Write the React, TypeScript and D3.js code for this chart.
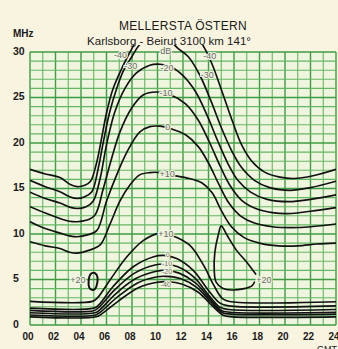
import React, { useEffect, useRef } from 'react';
import * as d3 from 'd3';

// axis ticks
const hourLabels = ['00', '02', '04', '06', '08', '10', '12', '14', '16', '18', '20', '22', '24'];
const freqTicks = [0, 5, 10, 15, 20, 25, 30];

// upper family (hour, MHz)
const upperM40 = [[0, 17.1], [1.2, 16.6], [2.35, 16.2], [3.2, 15.4], [3.7, 15.2], [4.3, 15.35], [4.75, 15.8], [5.2, 17.7], [5.6, 20.4], [6.0, 23.3], [6.5, 25.9], [7.2, 28.2], [7.85, 30.0], [8.4, 31.2], [10.8, 33], [13.2, 31.4], [13.7, 30.4], [14.3, 28.6], [15.1, 25.5], [15.9, 22.3], [16.6, 19.8], [17.4, 18.0], [18.4, 16.8], [19.6, 16.25], [20.7, 16.1], [22.2, 16.4], [24, 17.1]];
const upperM30 = [[0, 15.9], [1.2, 15.2], [2.35, 14.65], [3.1, 14.1], [3.7, 13.9], [4.3, 14.1], [4.85, 14.65], [5.35, 17.2], [5.75, 20.1], [6.25, 23.4], [6.8, 26.0], [7.35, 28.0], [7.95, 29.4], [8.6, 30.8], [9.8, 32], [11.0, 31.2], [11.6, 30.4], [12.4, 29.5], [13.3, 27.5], [14.2, 24.6], [15.0, 21.7], [15.8, 19.2], [16.6, 17.3], [17.6, 15.9], [18.8, 15.1], [20.4, 14.8], [22, 15.1], [24, 15.8]];
const upperM20 = [[0, 14.6], [1.2, 13.9], [2.35, 13.4], [3.1, 12.95], [3.7, 12.8], [4.4, 13.0], [4.95, 13.6], [5.5, 16.1], [6.0, 19.8], [6.65, 23.4], [7.45, 26.0], [8.35, 27.7], [9.4, 28.55], [10.2, 28.65], [11.0, 28.4], [12.0, 27.4], [13.0, 25.6], [13.9, 23.0], [14.7, 20.3], [15.5, 17.8], [16.3, 15.9], [17.3, 14.6], [18.6, 13.8], [20.3, 13.55], [22, 13.8], [24, 14.3]];
const upperM10 = [[0, 13.0], [1.2, 12.3], [2.35, 11.7], [3.1, 11.4], [3.7, 11.35], [4.4, 11.5], [5.1, 12.1], [5.75, 15.0], [6.4, 18.3], [7.05, 21.2], [7.95, 23.8], [8.9, 25.3], [9.9, 25.6], [11.0, 25.3], [12.2, 24.3], [13.2, 22.5], [14.1, 20.0], [14.9, 17.5], [15.7, 15.3], [16.6, 13.7], [17.7, 12.8], [19, 12.35], [20.5, 12.25], [22, 12.5], [24, 12.9]];
const upper0 = [[0, 11.35], [1.2, 10.6], [2.35, 10.1], [3.1, 9.8], [3.7, 9.7], [4.5, 9.9], [5.25, 10.4], [6.0, 13.6], [6.8, 16.5], [7.6, 19.0], [8.6, 21.2], [9.4, 21.8], [10.2, 21.85], [11.0, 21.6], [12.2, 20.9], [13.2, 19.6], [14.0, 17.8], [14.8, 15.5], [15.6, 13.4], [16.5, 12.0], [17.6, 11.2], [19, 10.8], [20.5, 10.7], [22, 10.8], [24, 11.1]];
const upperP10 = [[0, 9.15], [1.2, 8.7], [2.35, 8.4], [3.1, 8.0], [3.7, 7.9], [4.6, 8.2], [5.5, 8.8], [6.25, 11.0], [7.05, 13.6], [7.85, 15.4], [8.6, 16.5], [9.4, 16.75], [10.2, 16.75], [11.0, 16.5], [12.5, 16.1], [13.5, 15.6], [14.3, 14.5], [15.0, 12.6], [15.8, 10.8], [16.8, 9.6], [18.0, 9.0], [19.5, 8.7], [21, 8.7], [22.5, 8.9], [24, 9.0]];

// lower family
const lowerP10 = [[0, 2.6], [4.9, 2.6], [5.3, 3.0], [6.3, 5.0], [7.6, 7.5], [8.9, 9.3], [10.2, 10.1], [11.0, 9.9], [12.5, 8.8], [13.6, 6.6], [14.4, 4.4], [15.1, 2.9], [15.8, 2.55], [24, 2.55]];
const lower0 = [[0, 1.85], [5.0, 1.85], [5.4, 2.2], [6.5, 4.2], [8.1, 6.4], [9.7, 7.5], [10.5, 7.65], [11.5, 7.3], [12.8, 6.0], [14.0, 3.8], [14.9, 2.4], [15.6, 2.1], [24, 2.1]];
const lowerM10 = [[0, 1.6], [5.05, 1.6], [5.45, 2.0], [6.6, 3.8], [8.2, 5.7], [9.8, 6.6], [10.6, 6.7], [11.6, 6.4], [12.9, 5.2], [14.0, 3.3], [14.9, 1.95], [15.6, 1.7], [24, 1.7]];
const lowerM20 = [[0, 1.35], [5.1, 1.35], [5.5, 1.7], [6.7, 3.4], [8.3, 5.1], [9.9, 5.9], [10.6, 6.0], [11.7, 5.7], [13.0, 4.6], [14.1, 2.9], [15.0, 1.6], [15.7, 1.4], [24, 1.4]];
const lowerM30 = [[0, 1.1], [5.15, 1.1], [5.55, 1.45], [6.8, 3.0], [8.4, 4.6], [10.0, 5.3], [10.7, 5.35], [11.8, 5.1], [13.1, 4.1], [14.2, 2.5], [15.1, 1.35], [15.8, 1.2], [24, 1.2]];
const lowerM40 = [[0, 0.9], [5.2, 0.9], [5.6, 1.2], [6.9, 2.6], [8.5, 4.1], [10.0, 4.7], [10.8, 4.75], [11.9, 4.5], [13.2, 3.6], [14.3, 2.1], [15.2, 1.05], [15.9, 0.9], [24, 0.9]];

// +20 islands
const islandRight = [[17.7, 5.6], [17.0, 6.9], [16.2, 8.2], [15.4, 10.0], [15.0, 10.9], [14.75, 9.8], [14.5, 8.0], [14.45, 6.0], [14.6, 4.7], [15.1, 4.05], [15.8, 3.85], [16.8, 4.0], [17.4, 4.3], [17.6, 4.7]];
const islandLeft = [[4.75, 5.6], [5.1, 5.7], [5.3, 5.2], [5.2, 4.2], [4.95, 3.85], [4.65, 4.1], [4.6, 4.9]];

// contour labels (text, hour, MHz)
const upperLabels = [
  ['-40', 7.1, 29.7], ['-30', 7.9, 28.5], ['dB', 10.65, 30.1], ['-20', 10.75, 28.3],
  ['-10', 10.67, 25.5], ['0', 10.8, 21.75], ['+10', 10.75, 16.6],
  ['-40', 14.1, 29.55], ['-30', 13.9, 27.5],
  ['+10', 10.65, 10.0], ['+20', 3.75, 4.95], ['+20', 18.35, 4.95],
];
const lowerStackLabels = [['0', 10.8, 7.7], ['-10', 10.75, 6.75], ['-20', 10.75, 5.85], ['-40', 10.65, 4.4]];

export default function App() {
  const ref = useRef(null);

  useEffect(() => {
    const width = 338;
    const height = 349;
    const pageBg = '#f8f4e0';
    const plotBg = '#eff5de';
    const font = '"Liberation Sans", Arial, sans-serif';

    const x = d3.scaleLinear().domain([0, 24]).range([30, 336]);
    const y = d3.scaleLinear().domain([0, 30]).range([325, 52]);

    const svg = d3.select(ref.current).attr('viewBox', [0, 0, width, height]);
    svg.selectAll('*').remove();

    svg.append('rect').attr('width', width).attr('height', height).attr('fill', pageBg);
    svg
      .append('rect')
      .attr('x', x(0))
      .attr('y', y(30))
      .attr('width', x(24) - x(0))
      .attr('height', y(0) - y(30))
      .attr('fill', plotBg);

    // grid
    const grid = svg.append('g');
    grid
      .selectAll('line.v')
      .data(d3.range(0, 25))
      .enter()
      .append('line')
      .attr('x1', (d) => x(d))
      .attr('x2', (d) => x(d))
      .attr('y1', y(30))
      .attr('y2', y(0))
      .attr('stroke', (d) => (d % 2 === 0 ? '#3f9c45' : '#64b763'))
      .attr('stroke-width', (d) => (d % 2 === 0 ? 1.4 : 1.1));
    grid
      .selectAll('line.h')
      .data(d3.range(0, 31))
      .enter()
      .append('line')
      .attr('x1', x(0))
      .attr('x2', x(24))
      .attr('y1', (d) => y(d))
      .attr('y2', (d) => y(d))
      .attr('stroke', (d) => (d % 5 === 0 ? '#3f9c45' : '#64b763'))
      .attr('stroke-width', (d) => (d % 5 === 0 ? 1.4 : 1.1));

    // contours
    svg
      .append('clipPath')
      .attr('id', 'plotclip')
      .append('rect')
      .attr('x', x(0))
      .attr('y', 45)
      .attr('width', x(24) - x(0))
      .attr('height', y(0) - 45);

    const line = d3
      .line()
      .x((d) => x(d[0]))
      .y((d) => y(d[1]))
      .curve(d3.curveCatmullRom.alpha(0.5));

    const curves = [upperM40, upperM30, upperM20, upperM10, upper0, upperP10, lowerP10, lower0, lowerM10, lowerM20, lowerM30, lowerM40, islandRight];
    const cg = svg.append('g').attr('clip-path', 'url(#plotclip)');
    cg.selectAll('path.c')
      .data(curves)
      .enter()
      .append('path')
      .attr('d', (d) => line(d))
      .attr('fill', 'none')
      .attr('stroke', '#111')
      .attr('stroke-width', 1.65)
      .attr('stroke-linejoin', 'round')
      .attr('stroke-linecap', 'round');

    const closed = d3
      .line()
      .x((d) => x(d[0]))
      .y((d) => y(d[1]))
      .curve(d3.curveCardinalClosed);
    cg.append('path')
      .attr('d', closed(islandLeft))
      .attr('fill', 'none')
      .attr('stroke', '#111')
      .attr('stroke-width', 2);

    // contour labels
    const addLabels = (data, size) => {
      svg
        .append('g')
        .selectAll('text')
        .data(data)
        .enter()
        .append('text')
        .attr('x', (d) => x(d[1]))
        .attr('y', (d) => y(d[2]))
        .attr('dy', '0.35em')
        .attr('text-anchor', 'middle')
        .attr('font-family', font)
        .attr('font-size', size)
        .attr('fill', '#6a6a6a')
        .attr('stroke', plotBg)
        .attr('stroke-width', 2.2)
        .attr('paint-order', 'stroke')
        .text((d) => d[0]);
    };
    addLabels(upperLabels, 9);
    addLabels(lowerStackLabels, 7);

    // axes labels
    svg
      .append('g')
      .selectAll('text')
      .data(freqTicks)
      .enter()
      .append('text')
      .attr('x', 13)
      .attr('y', (d) => y(d) - 1)
      .attr('dy', '0.35em')
      .attr('font-family', font)
      .attr('font-weight', 'bold')
      .attr('font-size', 10.5)
      .attr('fill', '#1a1a1a')
      .text((d) => d);

    svg
      .append('g')
      .selectAll('text')
      .data(hourLabels)
      .enter()
      .append('text')
      .attr('x', (d, i) => x(i * 2) - 2)
      .attr('y', 340)
      .attr('text-anchor', 'middle')
      .attr('font-family', font)
      .attr('font-weight', 'bold')
      .attr('font-size', 10)
      .attr('fill', '#1a1a1a')
      .text((d) => d);

    svg
      .append('text')
      .attr('x', 13)
      .attr('y', 37)
      .attr('font-family', font)
      .attr('font-weight', 'bold')
      .attr('font-size', 10)
      .attr('fill', '#1a1a1a')
      .text('MHz');

    svg
      .append('text')
      .attr('x', 317)
      .attr('y', 352)
      .attr('font-family', font)
      .attr('font-size', 9)
      .attr('fill', '#1a1a1a')
      .text('GMT');

    // titles
    svg
      .append('text')
      .attr('x', 183)
      .attr('y', 29.5)
      .attr('text-anchor', 'middle')
      .attr('font-family', font)
      .attr('font-size', 12)
      .attr('letter-spacing', 0.3)
      .attr('fill', '#1a1a1a')
      .text('MELLERSTA ÖSTERN');
    svg
      .append('text')
      .attr('x', 169)
      .attr('y', 45)
      .attr('text-anchor', 'middle')
      .attr('font-family', font)
      .attr('font-size', 11.5)
      .attr('fill', '#1a1a1a')
      .text('Karlsborg - Beirut  3100 km  141°');
  }, []);

  return (
    <svg
      ref={ref}
      width={338}
      height={349}
      style={{ position: 'absolute', left: 0, top: 0, display: 'block' }}
    />
  );
}
